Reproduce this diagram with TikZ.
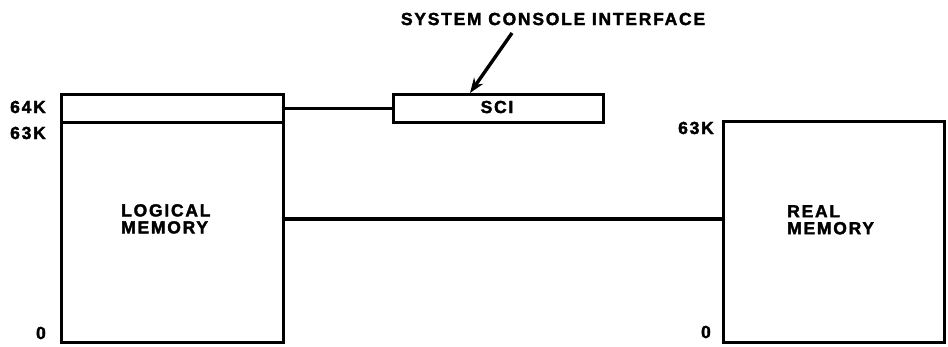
\documentclass[tikz,border=0pt]{standalone}
\usepackage{fontspec}
\setmainfont{Liberation Sans}
\newfontfamily\labfont{Liberation Sans}[LetterSpace=10, FakeBold=2]
\usetikzlibrary{arrows.meta}
\begin{document}
\begin{tikzpicture}[x=1pt,y=-1pt,
  lab/.style={font=\labfont\fontsize{17.5}{17}\selectfont\bfseries, inner sep=0pt},
  membox/.style={draw, line width=3pt, inner sep=0pt, anchor=north west},
  wire/.style={line width=3.2pt},
  pointer/.style={line width=3.4pt, -{Stealth[length=15pt,width=11pt]}}]
\useasboundingbox (0,0) rectangle (948,346);
% boxes
\node[membox, minimum width=222pt, minimum height=248pt] (logical) at (60,93) {};
\node[membox, minimum width=210pt, minimum height=28pt] (sci) at (392,93) {};
\node[membox, minimum width=221pt, minimum height=221pt] (real) at (722,120) {};
\draw[line width=3pt] (logical.west |- 0,122) coordinate (divl) -- (logical.east |- divl);
% texts
\node[lab] (scitext) at (497,107) {SCI};
\node[lab, align=left, anchor=north west] (logtext) at (121,204) {LOGICAL\\MEMORY};
\node[lab, align=left, anchor=north west] (realtext) at (787,205) {REAL\\MEMORY};
\node[lab] (title) at (553,19) {SYSTEM CONSOLE INTERFACE};
\node[lab, anchor=east] (l64) at (46,107) {64K};
\node[lab, anchor=east] (l63) at (46,133) {63K};
\node[lab, anchor=east] (l0) at (46,333) {0};
\node[lab, anchor=east] (r63) at (714,128) {63K};
\node[lab, anchor=east] (r0) at (711,332) {0};
% connectors
\draw[wire] (logical.east |- sci.west) -- (sci.west);
\coordinate (bus) at (500,219);
\draw[wire] (logical.east |- bus) -- (real.west |- bus);
\coordinate (tail) at (512,33);
\draw[pointer] (tail) -- (sci.north -| 470,0);
\end{tikzpicture}
\end{document}
